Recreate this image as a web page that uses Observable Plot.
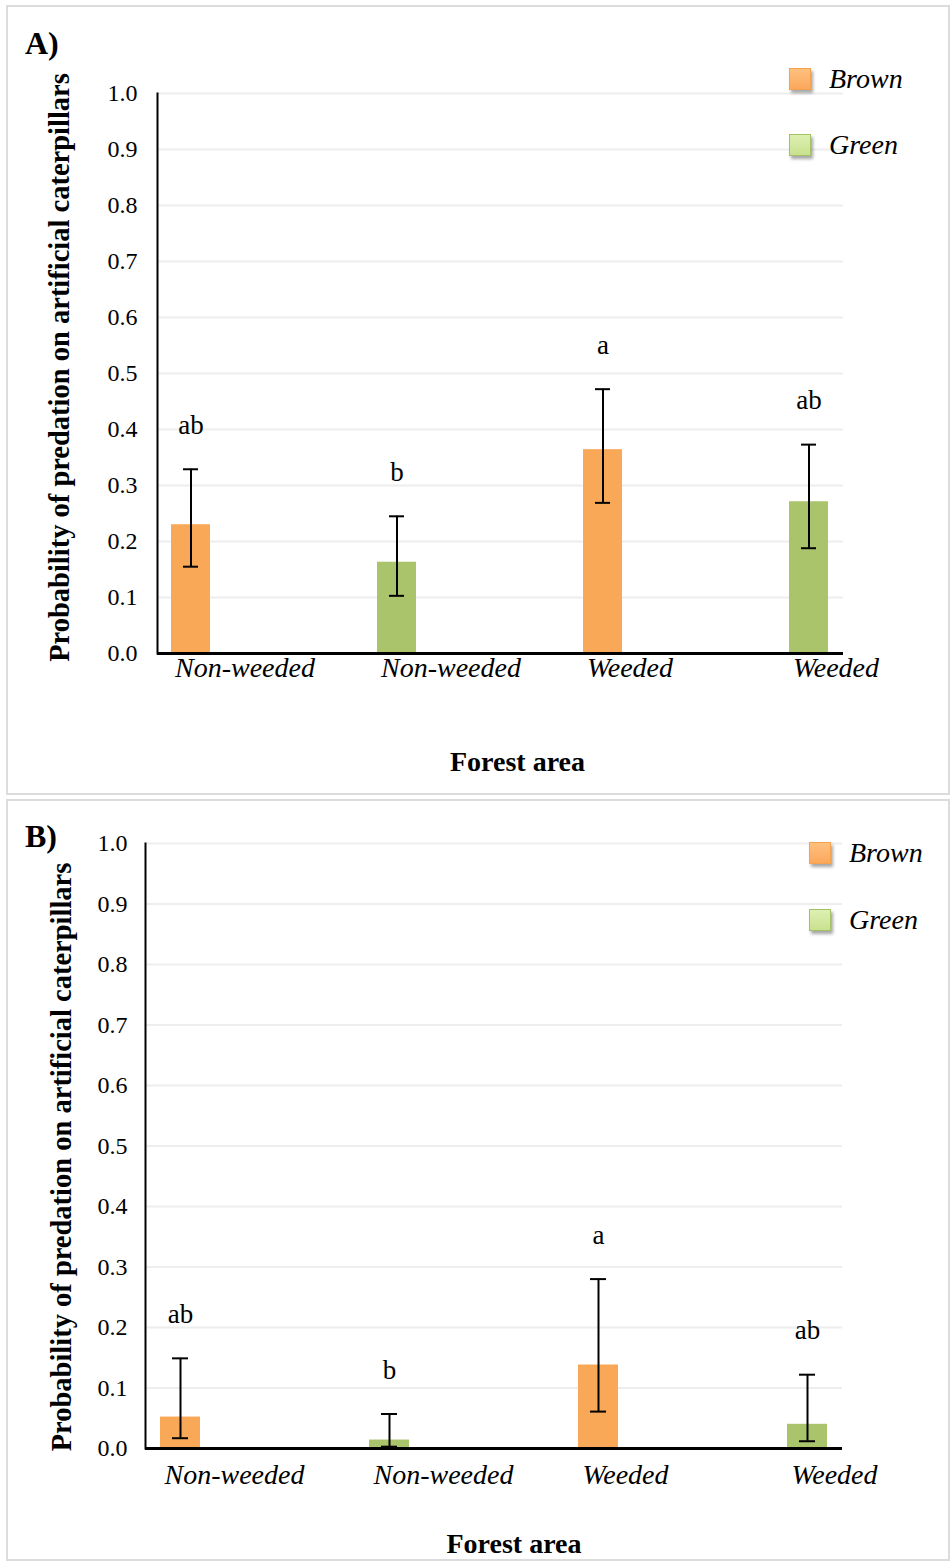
<!DOCTYPE html>
<html><head><meta charset="utf-8">
<script src="https://cdn.jsdelivr.net/npm/d3@7"></script>
<script src="https://cdn.jsdelivr.net/npm/@observablehq/plot@0.6"></script>
<style>
body{margin:0;background:#fff;width:950px;height:1562px;position:relative;overflow:hidden;font-family:"Liberation Serif","Times New Roman",serif;color:#000}
.panel{position:absolute;border:2px solid #DCDCDC;box-sizing:border-box;}
.plot{position:absolute;left:0;}
.plot svg, .plot svg text{font-family:"Liberation Serif","Times New Roman",serif !important;}
.tag{position:absolute;font-weight:bold;font-size:32px;line-height:1}
.item{position:absolute;display:flex;align-items:center;white-space:nowrap;font-style:italic;font-size:28px;line-height:1}
.sw{width:22px;height:22px;box-sizing:border-box;margin-right:18px;box-shadow:2px 3px 3px rgba(0,0,0,.35)}
.sw.Brown{background:linear-gradient(#FFC07E,#FBA85C);border:1.5px solid #F4A24F}
.sw.Green{background:linear-gradient(#DDF0B2,#C9E18F);border:1.5px solid #A3C166}
</style>
</head><body>
<div class="panel" style="left:6px;top:5px;width:944px;height:790px"></div>
<div class="panel" style="left:6px;top:799px;width:944px;height:762px"></div>
<div id="A" class="plot" style="top:0px"></div>
<div id="B" class="plot" style="top:798px"></div>
<div class="tag" style="left:25px;top:27px">A)</div>
<div class="tag" style="left:25px;top:820px">B)</div>
<div id="legA"></div>
<div id="legB"></div>
<script>
// ---- data ----
const areas = ["Non-weeded", "Non-weeded", "Weeded", "Weeded"];
const colours = ["Brown", "Green", "Brown", "Green"];
const seriesNames = ["Brown", "Green"];
const seriesColours = ["#F9A857", "#AAC46C"];
const yTicks = [0, 0.1, 0.2, 0.3, 0.4, 0.5, 0.6, 0.7, 0.8, 0.9, 1.0];
const yTitle = "Probability of predation on artificial caterpillars";
const xTitle = "Forest area";

const predA = [0.230, 0.163, 0.364, 0.271];
const lowA  = [0.155, 0.103, 0.269, 0.188];
const highA = [0.329, 0.245, 0.472, 0.373];
const lettersA = ["ab", "b", "a", "ab"];

const predB = [0.052, 0.014, 0.138, 0.040];
const lowB  = [0.017, 0.003, 0.061, 0.012];
const highB = [0.149, 0.057, 0.280, 0.122];
const lettersB = ["ab", "b", "a", "ab"];

const FONT = '"Liberation Serif", "Times New Roman", serif';
const keys = areas.map((a, i) => a + "|" + colours[i]);
const colourOf = s => seriesColours[seriesNames.indexOf(s)];

function rowsOf(pred, low, high, letters) {
  return keys.map((k, i) => ({key: k, area: areas[i], colour: colours[i], pred: pred[i], low: low[i], high: high[i], letter: letters[i]}));
}

function makePanel(rows, o) {
  return Plot.plot({
    width: 950, height: o.height,
    marginTop: o.mt, marginBottom: o.mb, marginLeft: o.ml, marginRight: o.mr,
    style: {fontFamily: FONT, color: "black", background: "transparent", overflow: "visible"},
    x: {type: "band", domain: keys, paddingInner: 0.81, paddingOuter: 0.07},
    y: {domain: [0, 1]},
    marks: [
      Plot.ruleY(yTicks.filter(v => v > 0), {stroke: "#EEEEEE", strokeWidth: 2}),
      Plot.barY(rows, {x: "key", y: "pred", fill: d => colourOf(d.colour)}),
      Plot.ruleX(rows, {x: "key", y1: "low", y2: "high", stroke: "black", strokeWidth: 2}),
      Plot.tickY(rows, {x: "key", y: "low", stroke: "black", strokeWidth: 2, insetLeft: 12, insetRight: 12}),
      Plot.tickY(rows, {x: "key", y: "high", stroke: "black", strokeWidth: 2, insetLeft: 12, insetRight: 12}),
      Plot.text(rows, {x: "key", y: "high", text: "letter", dy: -44, fontSize: 27, fontFamily: FONT}),
      Plot.ruleY([0], {stroke: "black", strokeWidth: 3}),
      Plot.frame({anchor: "left", stroke: "black", strokeWidth: 2}),
      Plot.axisY({ticks: yTicks, tickFormat: d3.format(".1f"), tickSize: 0, tickPadding: o.yPad, fontSize: 24, fontFamily: FONT, label: null}),
      Plot.axisX({tickSize: 0, tickPadding: o.xPad, tickFormat: k => k.split("|")[0], fontSize: 28, fontStyle: "italic", fontFamily: FONT, textAnchor: "start", dx: -16, label: null}),
      Plot.text([yTitle], {frameAnchor: "left", rotate: -90, textAnchor: "middle", dx: o.ytDx, dy: o.ytDy, fontWeight: "bold", fontSize: 28.5, fontFamily: FONT}),
      Plot.text([xTitle], {frameAnchor: "bottom", dx: o.xtDx, dy: o.xtDy, lineAnchor: "middle", fontWeight: "bold", fontSize: 28, fontFamily: FONT})
    ]
  });
}

document.getElementById("A").append(makePanel(rowsOf(predA, lowA, highA, lettersA),
  {height: 794, mt: 93, mb: 141, ml: 157, mr: 107, yPad: 20, xPad: 4, ytDx: -98, ytDy: -6, xtDx: 17, xtDy: 109}));
document.getElementById("B").append(makePanel(rowsOf(predB, lowB, highB, lettersB),
  {height: 764, mt: 45, mb: 114, ml: 145, mr: 108, yPad: 18, xPad: 16, ytDx: -84, ytDy: 11, xtDx: 20, xtDy: 96}));

function legend(id, left, tops) {
  const el = document.getElementById(id);
  seriesNames.forEach((s, i) => {
    const it = document.createElement("div");
    it.className = "item";
    it.style.left = left + "px";
    it.style.top = tops[i] + "px";
    it.innerHTML = `<div class="sw ${s}"></div><span>${s}</span>`;
    el.append(it);
  });
}
legend("legA", 789, [65, 131]);
legend("legB", 809, [839, 906]);
</script>
</body></html>
